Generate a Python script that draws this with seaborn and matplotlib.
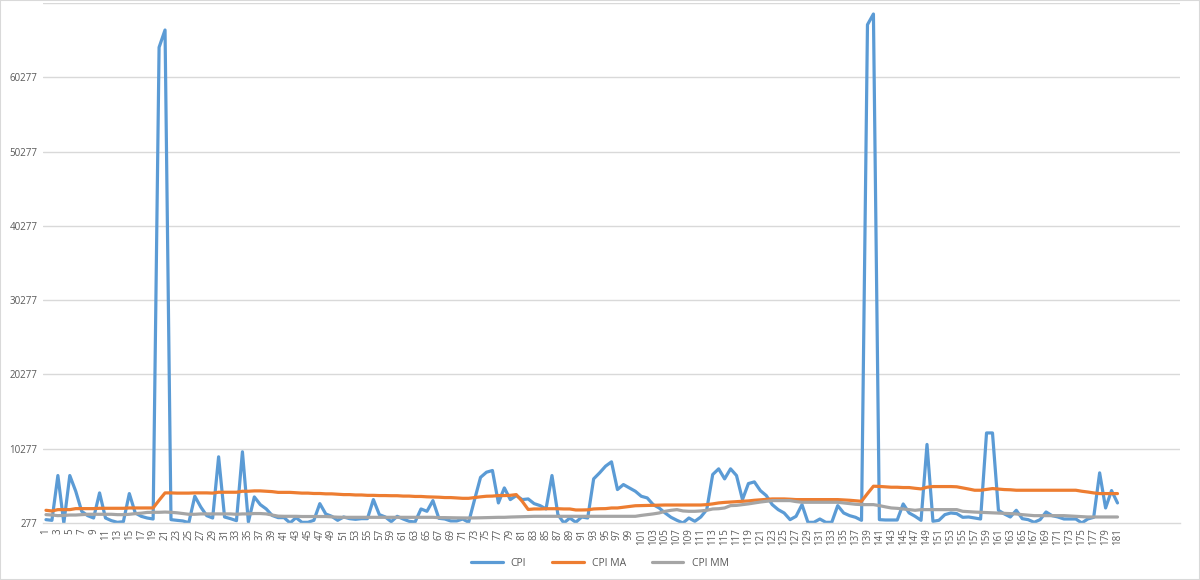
import pandas as pd
import seaborn as sns
import matplotlib.pyplot as plt
from matplotlib.patches import Rectangle

# valores
periodos = list(range(1, 182))

cpi = [
    727, 637, 6667, 277, 6667, 4550, 1850, 1267, 950, 4327,
    950, 590, 367, 457, 4237, 1627, 1177, 950, 817, 64305,
    66642, 727, 637, 547, 322, 3877, 2437, 1267, 950, 9187,
    1087, 862, 590, 9862, 412, 3787, 2752, 2167, 1290, 1000,
    1000, 277, 1000, 367, 367, 637, 2887, 1492, 1177, 637,
    1087, 862, 772, 862, 862, 3427, 1402, 1087, 457, 1177,
    817, 502, 412, 2167, 1852, 3292, 907, 817, 547, 547,
    817, 367, 3427, 6420, 7117, 7342, 2977, 5002, 3427, 3967,
    3427, 3517, 2887, 2617, 2167, 6667, 1402, 277, 952, 367,
    1087, 952, 6217, 7027, 7927, 8512, 4777, 5452, 5002, 4552,
    3877, 3652, 2752, 2302, 1627, 1042, 637, 277, 952, 502,
    1087, 2077, 6802, 7567, 6217, 7567, 6667, 3427, 5587, 5812,
    4642, 3967, 2752, 2077, 1627, 727, 1177, 2752, 367, 367,
    817, 367, 367, 2617, 1627, 1267, 1042, 637, 67356, 68794,
    727, 682, 682, 682, 2842, 1627, 1177, 637, 10852, 502,
    637, 1402, 1627, 1537, 1042, 1087, 952, 817, 12400, 12400,
    1987, 1492, 1087, 1987, 862, 727, 367, 727, 1762, 1267,
    1087, 817, 817, 817, 277, 817, 1042, 7027, 2302, 4642,
    2977,
]

cpi_ma = [
    1987, 1897, 2077, 2077, 2077, 2212, 2212, 2212, 2212, 2257,
    2257, 2257, 2257, 2257, 2302, 2302, 2302, 2302, 2302, 3337,
    4327, 4330, 4300, 4300, 4300, 4330, 4330, 4330, 4300, 4417,
    4417, 4417, 4417, 4550, 4550, 4600, 4600, 4550, 4500, 4400,
    4400, 4400, 4350, 4300, 4300, 4250, 4250, 4200, 4200, 4150,
    4100, 4100, 4050, 4050, 4000, 4000, 3970, 3970, 3950, 3950,
    3900, 3900, 3850, 3850, 3800, 3780, 3750, 3700, 3700, 3650,
    3600, 3600, 3700, 3800, 3880, 3900, 3970, 3970, 4000, 4100,
    3200, 2100, 2167, 2167, 2200, 2200, 2200, 2167, 2167, 2032,
    2032, 2050, 2167, 2200, 2212, 2300, 2300, 2400, 2500, 2600,
    2620, 2650, 2650, 2680, 2700, 2700, 2700, 2700, 2700, 2700,
    2700, 2750, 2850, 2977, 3050, 3100, 3157, 3200, 3250, 3337,
    3400, 3450, 3517, 3517, 3517, 3480, 3427, 3427, 3427, 3427,
    3427, 3427, 3427, 3427, 3380, 3337, 3270, 3202, 4237, 5227,
    5200, 5150, 5092, 5092, 5050, 5050, 4950, 4867, 5092, 5182,
    5182, 5182, 5182, 5150, 5002, 4850, 4687, 4687, 4800, 4912,
    4850, 4777, 4750, 4687, 4687, 4687, 4687, 4687, 4687, 4687,
    4687, 4687, 4687, 4687, 4552, 4450, 4327, 4237, 4237, 4237,
    4237,
]

cpi_mm = [
    1402, 1350, 1267, 1300, 1350, 1350, 1400, 1450, 1450, 1450,
    1450, 1450, 1400, 1400, 1450, 1537, 1600, 1700, 1717, 1717,
    1750, 1717, 1650, 1550, 1450, 1450, 1500, 1500, 1500, 1500,
    1500, 1500, 1450, 1500, 1500, 1550, 1550, 1500, 1350, 1200,
    1177, 1177, 1177, 1150, 1150, 1150, 1150, 1150, 1100, 1060,
    1042, 1042, 1042, 1042, 1042, 1042, 1042, 1042, 1042, 1042,
    1042, 1042, 1042, 1042, 1042, 1042, 1000, 1000, 980, 970,
    960, 952, 960, 980, 1000, 1020, 1042, 1042, 1080, 1100,
    1120, 1150, 1177, 1177, 1177, 1177, 1177, 1177, 1177, 1177,
    1177, 1177, 1177, 1177, 1177, 1177, 1177, 1177, 1177, 1177,
    1300, 1402, 1500, 1627, 1850, 1987, 2077, 1900, 1852, 1852,
    1900, 1987, 2167, 2200, 2302, 2617, 2650, 2752, 2850, 2977,
    3100, 3202, 3292, 3292, 3292, 3292, 3157, 3067, 3067, 3067,
    3067, 3067, 3067, 3067, 2977, 2887, 2800, 2752, 2752, 2752,
    2617, 2450, 2302, 2250, 2167, 2077, 1987, 2077, 2077, 2077,
    2077, 2077, 2077, 2077, 1852, 1800, 1750, 1717, 1680, 1650,
    1627, 1580, 1540, 1492, 1400, 1330, 1267, 1267, 1267, 1267,
    1267, 1267, 1220, 1177, 1130, 1087, 1087, 1087, 1087, 1087,
    1087,
]

series_names = ["CPI", "CPI MA", "CPI MM"]
cores = ["#5B9BD5", "#ED7D31", "#A5A5A5"]
y_ticks = [277, 10277, 20277, 30277, 40277, 50277, 60277]

df = pd.DataFrame({
    "periodo": periodos * 3,
    "valor": cpi + cpi_ma + cpi_mm,
    "serie": ["CPI"] * 181 + ["CPI MA"] * 181 + ["CPI MM"] * 181,
})

sns.set_style("white")
plt.rcParams["font.family"] = ["Open Sans", "DejaVu Sans"]

fig = plt.figure(figsize=(12, 5.8), dpi=100)
ax = fig.add_axes([43 / 1200, 1 - 523 / 580, (1180 - 43) / 1200, 520 / 580])

sns.lineplot(data=df, x="periodo", y="valor", hue="serie", hue_order=series_names,
             palette=dict(zip(series_names, cores)), linewidth=2.3, ax=ax, legend=False)

ax.set_xlim(0.5, 191.5)
ax.set_ylim(277, 70277)
ax.set_yticks(y_ticks)
ax.set_yticklabels([str(v) for v in y_ticks], color="#595959", fontsize=7)
ax.set_xticks(periodos[::2])
ax.set_xticklabels([str(p) for p in periodos[::2]], rotation=90, color="#595959", fontsize=7)
ax.tick_params(axis="both", length=0, pad=4)
ax.set_xlabel("")
ax.set_ylabel("")

for v in y_ticks[1:] + [70277]:
    ax.axhline(v, color="#d9d9d9", linewidth=1, zorder=0)
for s in ["top", "right", "left"]:
    ax.spines[s].set_visible(False)
ax.spines["bottom"].set_color("#d9d9d9")
ax.spines["bottom"].set_linewidth(1)

# legenda embaixo
handles = [plt.Line2D([0], [0], color=c, linewidth=2.3) for c in cores]
fig.legend(handles, series_names, loc="center", bbox_to_anchor=(0.5, 1 - 563 / 580),
           ncol=3, frameon=False, fontsize=7.5, labelcolor="#595959",
           handlelength=3, columnspacing=2.5)

# borda do grafico
fig.patches.append(Rectangle((0, 0), 1, 1, transform=fig.transFigure, fill=False,
                             edgecolor="#d9d9d9", linewidth=1.5))

fig.savefig("out.png", dpi=100)
plt.close(fig)
